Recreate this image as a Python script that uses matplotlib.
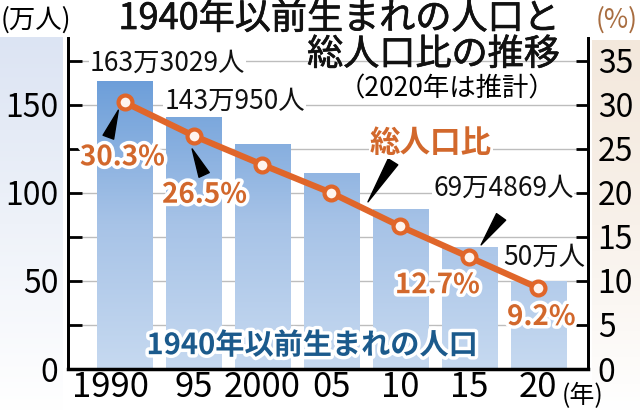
import numpy as np
import matplotlib
matplotlib.use('Agg')
import matplotlib.pyplot as plt
import matplotlib.patheffects as pe
import matplotlib.transforms as mtrans
from matplotlib.colors import LinearSegmentedColormap

plt.rcParams['font.family'] = ['Noto Sans CJK JP', 'DejaVu Sans']

# data
years = ['1990', '95', '2000', '05', '10', '15', '20']
pop = [163.3029, 143.0950, 127.8, 111.2, 90.8, 69.4869, 50.0]   # 万人
ratio = [30.3, 26.5, 23.2, 20.0, 16.2, 12.7, 9.2]               # %
pop_labels = {0: '163万3029人', 1: '143万950人', 5: '69万4869人', 6: '50万人'}
ratio_labels = {0: '30.3%', 1: '26.5%', 5: '12.7%', 6: '9.2%'}

ORANGE = '#e0662a'
ORANGE_TXT = '#d2682c'
NAVY = '#1b5a8c'
PT = 0.72  # points per pixel at dpi 100

fig = plt.figure(figsize=(6.4, 4.11), dpi=100)

# pale background strips behind the tick labels
bgl = fig.add_axes([0, 0, 63/640, 374/411], zorder=-10)
g = np.linspace(0, 1, 256).reshape(-1, 1)
bgl.imshow(g, aspect='auto', origin='lower', extent=[0, 1, 0, 1],
           cmap=LinearSegmentedColormap.from_list('bl', ['#ffffff', '#eef2f9', '#dce4f3']))
bgl.axis('off')
bgr = fig.add_axes([592/640, 0, 48/640, 371/411], zorder=-10)
bgr.imshow(g, aspect='auto', origin='lower', extent=[0, 1, 0, 1],
           cmap=LinearSegmentedColormap.from_list('br', ['#ffffff', '#f8f1ea', '#f3e8dc']))
bgr.axis('off')

ax = fig.add_axes([68/640, 42/411, 520/640, 331/411])
x = np.arange(len(years))

bars = ax.bar(x, pop, width=0.8, color='#9dbde6', zorder=2)
bar_cmap = LinearSegmentedColormap.from_list('bar', ['#c6d9f0', '#a7c3e7', '#6c9ed9'])
for b in bars:
    h = b.get_height()
    grad = np.linspace(0, h / 165, 200).reshape(-1, 1)
    im = ax.imshow(grad, cmap=bar_cmap, vmin=0, vmax=1, origin='lower', aspect='auto',
                   extent=[b.get_x(), b.get_x() + b.get_width(), 0, h], zorder=2.1)
    im.set_clip_path(b)
ax.set_xlim(-0.82, 6.72)
ax.set_ylim(0, 188)

ax.set_yticks(np.arange(0, 176, 25))
ax.set_yticklabels(['0', '', '50', '', '100', '', '150', ''])
ax.grid(axis='y', color='#bdbdbd', lw=1)
ax.set_axisbelow(True)
ax.set_xticks(x)
ax.set_xticklabels(years)
ax.tick_params(axis='y', direction='in', length=10, width=2, labelsize=23, pad=7)
ax.tick_params(axis='x', length=0, labelsize=25, pad=1)
lbl = ax.get_xticklabels()[0]
lbl.set_transform(lbl.get_transform() + mtrans.ScaledTranslation(-0.14, 0, fig.dpi_scale_trans))

ax.spines['top'].set_visible(False)
ax.spines['left'].set_linewidth(2)
ax.spines['bottom'].set_linewidth(2.5)
ax.spines['right'].set_linewidth(2)

for i, t in pop_labels.items():
    off = {0: (43, 18), 1: (41, 16), 5: (34, 58), 6: (6, 24)}[i]
    ax.annotate(t, (x[i], pop[i]), xytext=(off[0] * PT, off[1] * PT), textcoords='offset points',
                ha='center', va='center', fontsize=19, color='#111111',
                bbox=dict(fc='white', ec='none', pad=0.5), zorder=4)

ax.text(0.469, 0.072, '1940年以前生まれの人口', transform=ax.transAxes, ha='center', va='center',
        fontsize=21, weight='bold', color=NAVY, zorder=6,
        path_effects=[pe.withStroke(linewidth=5, foreground='white')])

ax2 = ax.twinx()
ax2.set_ylim(0, 188 / 5)
ax2.set_yticks(np.arange(0, 36, 5))
ax2.tick_params(axis='y', direction='in', length=9, width=2, labelsize=23, pad=7)
ax2.spines['top'].set_visible(False)
ax2.spines['right'].set_linewidth(2)
ax2.spines['left'].set_linewidth(2)
ax2.spines['bottom'].set_visible(False)

ax2.plot(x, ratio, color=ORANGE, lw=4.5, marker='o', ms=10, mfc='#fff4ee', mec=ORANGE, mew=3,
         zorder=5, solid_capstyle='round')

stroke = [pe.withStroke(linewidth=5, foreground='white')]
for i, t in ratio_labels.items():
    off = {0: (-2, -55), 1: (11, -59), 5: (-32, -28), 6: (3, -29)}[i]
    ax2.annotate(t, (x[i], ratio[i]), xytext=(off[0] * PT, off[1] * PT), textcoords='offset points',
                 ha='center', va='center', fontsize=20, weight='bold', color=ORANGE_TXT,
                 path_effects=stroke, zorder=7)

wedge = dict(arrowstyle='wedge,tail_width=0.45', color='black', shrinkA=0, shrinkB=0,
             mutation_scale=18)
# pointers from labels to points
ax2.annotate('', (x[0] - 0.09, ratio[0] - 0.9), xytext=(-10 * PT, -27 * PT),
             textcoords='offset points', arrowprops=wedge, zorder=6)
ax2.annotate('', (x[1] - 0.02, ratio[1] - 1.5), xytext=(12 * PT, -26 * PT),
             textcoords='offset points', arrowprops=wedge, zorder=6)
xm = 3.53
ym = np.interp(xm, x, ratio)
ax2.annotate('', (xm, ym + 1.0), xytext=(25 * PT, 40 * PT),
             textcoords='offset points', arrowprops=wedge, zorder=6)
ax2.annotate('総人口比', (xm, ym), xytext=(63 * PT, 68 * PT), textcoords='offset points',
             ha='center', va='center', fontsize=22, weight='bold', color=ORANGE_TXT,
             bbox=dict(fc='white', ec='none', pad=0.5), zorder=6)
ax.annotate('', (x[5] + 0.17, pop[5] + 1), xytext=(20 * PT, 28 * PT),
            textcoords='offset points', arrowprops=wedge, zorder=6)

# titles and units
thick = [pe.withStroke(linewidth=0.5, foreground='#111111')]
fig.text(560/640, 1 - 19/411, '1940年以前生まれの人口と', ha='right', va='center',
         fontsize=26, color='#111111', path_effects=thick)
fig.text(560/640, 1 - 55/411, '総人口比の推移', ha='right', va='center',
         fontsize=26, color='#111111', path_effects=thick)
fig.text(555/640, 1 - 89/411, '（2020年は推計）', ha='right', va='center', fontsize=19)
fig.text(1/640, 1 - 20/411, '(万人)', ha='left', va='center', fontsize=19)
fig.text(638/640, 1 - 20/411, '(%)', ha='right', va='center', fontsize=19, color='#a86d40')
fig.text(583/640, 1 - 396/411, '(年)', ha='center', va='center', fontsize=18)

fig.savefig('out.png', dpi=100)
